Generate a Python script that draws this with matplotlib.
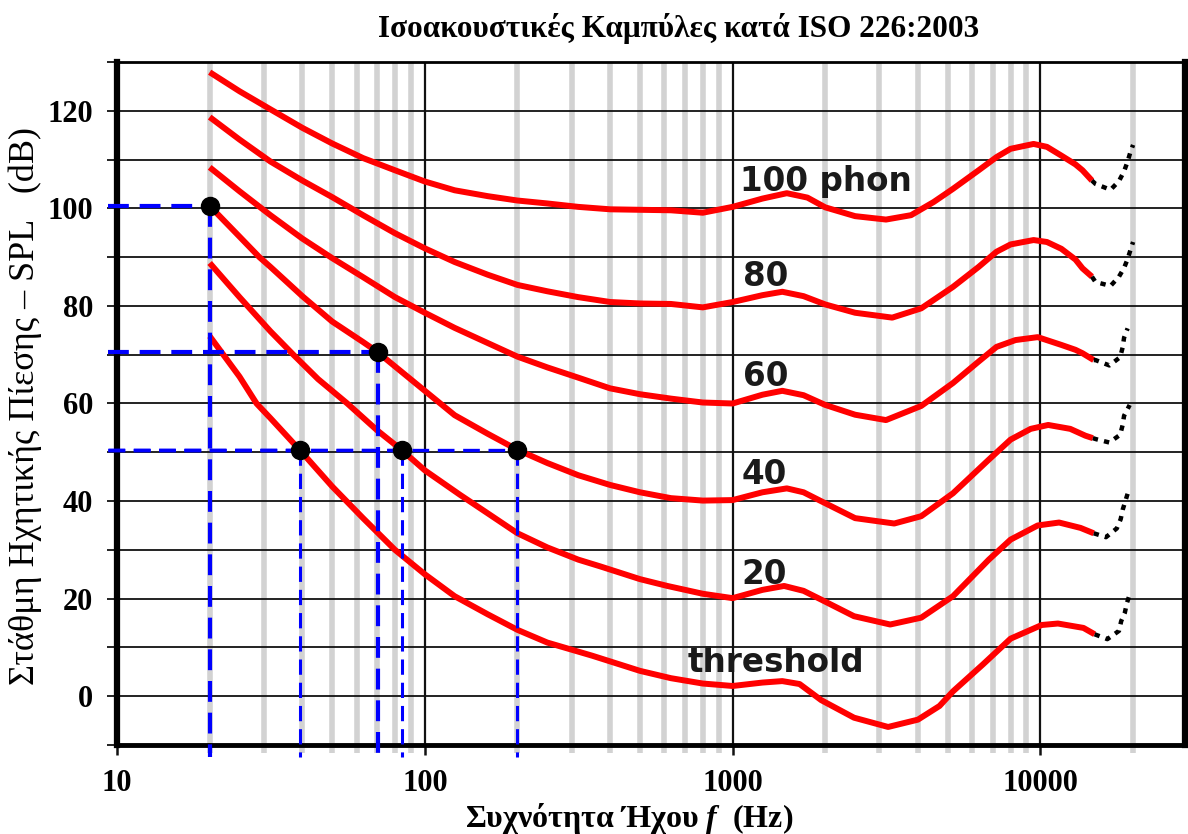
import matplotlib
matplotlib.use("Agg")
import matplotlib.pyplot as plt
from matplotlib.ticker import FixedLocator, NullFormatter, FuncFormatter

plt.rcParams['mathtext.fontset'] = 'custom'
plt.rcParams['mathtext.it'] = 'Liberation Serif:bold:italic'

# equal-loudness curves (Hz, dB SPL)
f_100 = [20, 25, 31.5, 40, 50, 63, 80, 100, 125, 160, 200, 250, 315, 400, 500, 630, 800, 1000,
         1250, 1500, 1750, 2000, 2500, 3150, 3800, 4500, 5200, 6300, 7200, 8000, 9500, 10500,
         11700, 13000, 13700, 14700]
spl_100 = [127.9, 124.0, 120.3, 116.5, 113.3, 110.3, 107.8, 105.5, 103.7, 102.5, 101.6, 101.0, 100.3,
           99.8, 99.7, 99.6, 99.1, 100.3, 102.0, 103.1, 102.2, 100.2, 98.4, 97.7, 98.6, 101.3, 104.0,
           107.8, 110.5, 112.2, 113.2, 112.6, 110.8, 109.0, 107.8, 105.7]

f_80 = [20, 25, 31.5, 40, 50, 63, 80, 100, 125, 160, 200, 250, 315, 400, 500, 630, 800, 1000,
        1250, 1450, 1700, 2000, 2500, 3300, 4100, 5200, 6300, 7200, 8000, 9500, 10500, 11700,
        13000, 13700, 14700]
spl_80 = [118.7, 114.1, 109.6, 105.7, 102.3, 98.6, 94.9, 91.8, 89.0, 86.4, 84.3, 83.0, 81.8, 80.8,
          80.5, 80.4, 79.7, 80.8, 82.2, 82.9, 82.0, 80.3, 78.6, 77.6, 79.5, 83.9, 88.0, 91.1, 92.6,
          93.5, 93.1, 91.7, 89.5, 87.7, 86.0]

f_60 = [20, 25, 31.5, 40, 50, 63, 80, 100, 125, 160, 200, 250, 315, 400, 500, 630, 800, 1000,
        1250, 1450, 1700, 2000, 2500, 3150, 4100, 5200, 6300, 7200, 8300, 9800, 11700, 13000,
        13700, 14900]
spl_60 = [108.4, 103.5, 98.6, 93.8, 89.8, 85.9, 81.8, 78.6, 75.5, 72.4, 69.6, 67.4, 65.3, 63.1,
          61.9, 61.0, 60.2, 60.0, 61.8, 62.6, 61.7, 59.7, 57.7, 56.6, 59.5, 64.2, 68.6, 71.6, 73.0,
          73.6, 72.0, 71.0, 70.3, 68.9]

f_40 = [20, 25, 29, 31.5, 40, 50, 63, 70, 80, 100, 125, 160, 200, 250, 315, 400, 500, 630, 800,
        1000, 1250, 1500, 1700, 1950, 2500, 3350, 4100, 5200, 6800, 8000, 9300, 10600, 12500,
        14000, 14800]
spl_40 = [100.5, 94.2, 90.0, 88.0, 82.0, 76.8, 72.6, 70.6, 67.6, 62.6, 57.6, 53.8, 50.5, 47.8,
          45.3, 43.3, 41.8, 40.6, 40.1, 40.2, 41.8, 42.6, 41.8, 39.9, 36.5, 35.4, 36.9, 41.6, 48.5,
          52.6, 54.8, 55.6, 54.8, 53.4, 52.9]

f_20 = [20, 25, 31.5, 37.4, 45, 56, 70, 84, 100, 130, 160, 200, 250, 315, 372, 500, 614, 800,
        1000, 1250, 1470, 1700, 1940, 2480, 3250, 4100, 5200, 6800, 8000, 9800, 11500, 13500, 14900]
spl_20 = [88.8, 81.8, 74.8, 70.0, 65.0, 60.0, 54.5, 50.5, 46.3, 41.3, 37.5, 33.4, 30.5, 28.0, 26.6,
          24.0, 22.6, 21.0, 20.1, 21.8, 22.6, 21.6, 19.8, 16.4, 14.7, 16.1, 20.5, 28.0, 32.1, 35.0,
          35.6, 34.5, 33.4]

f_thr = [20, 25, 28.4, 31.5, 39.2, 50, 63, 80, 100, 125, 160, 200, 250, 350, 500, 630, 800, 1000,
         1250, 1450, 1650, 1940, 2480, 3200, 4000, 4700, 5200, 6500, 8000, 10100, 11400, 13800, 15000]
spl_thr = [73.8, 65.5, 60.0, 57.0, 50.5, 43.0, 36.5, 30.0, 25.0, 20.5, 16.8, 13.6, 11.0, 8.3, 5.2,
           3.7, 2.6, 2.1, 2.8, 3.1, 2.5, -0.8, -4.4, -6.3, -4.8, -2.0, 1.0, 6.5, 11.8, 14.6, 14.9,
           14.0, 12.7]

# dotted (extrapolated) ends near 20 kHz
ext_f_100 = [14700, 15100, 16900, 18000, 18700, 19200, 19600, 20000]
ext_spl_100 = [105.7, 105.0, 103.8, 105.6, 107.6, 109.6, 111.5, 113.0]
ext_f_80 = [14700, 15100, 16900, 18000, 18700, 19200, 19600, 20000]
ext_spl_80 = [86.0, 84.9, 84.1, 86.0, 87.8, 89.6, 91.4, 93.1]
ext_f_60 = [14900, 15100, 16750, 18160, 18500, 18700, 19200]
ext_spl_60 = [68.9, 68.9, 67.8, 69.5, 71.5, 73.5, 75.4]
ext_f_40 = [14800, 15140, 16750, 18160, 18500, 18700, 19500]
ext_spl_40 = [52.9, 52.7, 52.0, 53.6, 55.6, 57.5, 59.7]
ext_f_20 = [14900, 16330, 17710, 18230, 18500, 19200]
ext_spl_20 = [33.4, 32.6, 34.4, 36.3, 38.2, 41.5]
ext_f_thr = [15000, 16500, 18000, 18300, 18800, 19100, 19600]
ext_spl_thr = [12.7, 11.7, 13.4, 15.4, 17.1, 19.1, 21.3]

# marked points with blue guide lines
mark_f = [20, 70.3, 39.2, 84.4, 200]
mark_spl = [100.5, 70.6, 50.5, 50.5, 50.5]

curve_labels = ['100 phon', '80', '60', '40', '20', 'threshold']

fig = plt.figure(figsize=(11.88, 8.34), dpi=100)
ax = fig.add_axes([0.0985, 0.1067, 0.8990, 0.8190])
ax.set_xscale('log')
ax.set_xlim(10, 29500)
ax.set_ylim(-10, 130)

minor_x = [m * d for d in (10, 100, 1000, 10000) for m in range(2, 10) if m * d < 29500]
ax.xaxis.set_major_locator(FixedLocator([10, 100, 1000, 10000]))
ax.xaxis.set_minor_locator(FixedLocator(minor_x))
ax.xaxis.set_major_formatter(FuncFormatter(lambda v, p: '%d' % v))
ax.xaxis.set_minor_formatter(NullFormatter())
ax.yaxis.set_major_locator(FixedLocator(list(range(-10, 131, 10))))
ax.yaxis.set_major_formatter(FuncFormatter(lambda v, p: '%d' % v if v >= 0 and v % 20 == 0 else ''))

ax.grid(which='minor', axis='x', color='#d2d2d2', lw=4.0)
ax.grid(which='major', axis='x', color='#111111', lw=1.6)
ax.grid(which='major', axis='y', color='#111111', lw=1.3)
ax.set_axisbelow(True)
ax.tick_params(axis='x', which='major', length=7, width=1.8, color='#111111', pad=10)
ax.tick_params(axis='x', which='minor', length=6, width=4.0, color='#d2d2d2')
ax.tick_params(axis='y', length=7, width=1.3, color='#111111', pad=10)
for lab in ax.get_xticklabels() + ax.get_yticklabels():
    lab.set_fontfamily('Liberation Serif')
    lab.set_fontweight('bold')
    lab.set_fontsize(22)

ax.spines['left'].set_linewidth(4.5)
ax.spines['right'].set_linewidth(4.5)
ax.spines['bottom'].set_linewidth(3.5)
ax.spines['top'].set_linewidth(2.0)

curves = [(f_100, spl_100, ext_f_100, ext_spl_100),
          (f_80, spl_80, ext_f_80, ext_spl_80),
          (f_60, spl_60, ext_f_60, ext_spl_60),
          (f_40, spl_40, ext_f_40, ext_spl_40),
          (f_20, spl_20, ext_f_20, ext_spl_20),
          (f_thr, spl_thr, ext_f_thr, ext_spl_thr)]
for f, s, ef, es in curves:
    ax.plot(f, s, color='#ff0000', lw=4.3, solid_capstyle='butt', solid_joinstyle='round', zorder=3)
    ax.plot(ef, es, color='black', lw=3.2, linestyle=(0, (1.2, 1.4)),
            dash_capstyle='butt', zorder=3)

# curve labels
label_pos = [(1060, 105.5), (1080, 86), (1080, 65.5), (1070, 45.4), (1070, 25), (715, 6.9)]
for txt, (x, y) in zip(curve_labels, label_pos):
    ax.text(x, y, txt, fontsize=23.5, fontweight='bold', family='DejaVu Sans',
            color='#1a1a1a', va='center', ha='left', zorder=4)

# blue guide lines and dots
v_widths = [3.0, 3.0, 2.2, 2.2, 2.2]
h_widths = [3.0, 3.0, 2.4, 2.4, 2.4]
for f, s, vw, hw in zip(mark_f, mark_spl, v_widths, h_widths):
    ax.plot([f, f], [s, -12.5], color='#0000ff', lw=vw, linestyle=(0, (5, 2.6)),
            clip_on=False, zorder=5)
    ax.plot([9.35, f], [s, s], color='#0000ff', lw=hw, linestyle=(0, (5, 2.6)),
            clip_on=False, zorder=5)
ax.plot(mark_f, mark_spl, 'o', color='black', ms=13, zorder=6, clip_on=False)

fig.text(0.571, 0.966, 'Ισοακουστικές Καμπύλες κατά ISO 226:2003', ha='center', va='center',
         fontsize=22.5, fontweight='bold', family='Liberation Serif')
fig.text(0.53, 0.019, 'Συχνότητα Ήχου $f$  (Hz)', ha='center', va='center', fontsize=23,
         fontweight='bold', family='Liberation Serif')
fig.text(0.021, 0.513, 'Στάθμη Ηχητικής Πίεσης – SPL   (dB)', ha='center', va='center',
         rotation=90, fontsize=26, family='Liberation Serif')

fig.savefig('out.png', dpi=100)
